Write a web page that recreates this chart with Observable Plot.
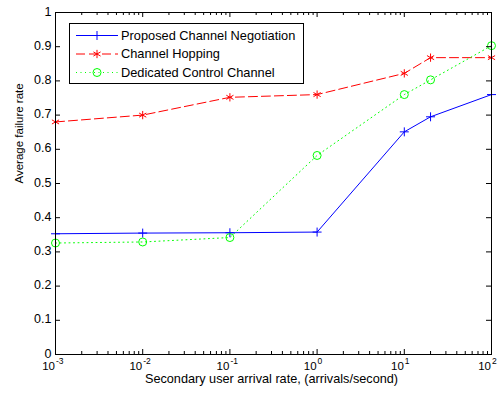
<!DOCTYPE html>
<html><head><meta charset="utf-8">
<script src="https://cdn.jsdelivr.net/npm/d3@7"></script>
<script src="https://cdn.jsdelivr.net/npm/@observablehq/plot@0.6"></script>
<style>body{margin:0;background:#fff}#chart{width:503px;height:399px}</style>
</head><body><div id="chart"></div>
<script>
// ---- data ----
const rates = [0.001, 0.01, 0.1, 1, 10, 20, 100];
const proposed = [0.353, 0.355, 0.356, 0.358, 0.651, 0.695, 0.76];
const hopping = [0.68, 0.70, 0.752, 0.76, 0.822, 0.868, 0.868];
const dedicated = [0.326, 0.329, 0.342, 0.582, 0.76, 0.803, 0.903];
const seriesNames = ["Proposed Channel Negotiation", "Channel Hopping", "Dedicated Control Channel"];
const xMajorTicks = [0.001, 0.01, 0.1, 1, 10, 100];
const xTickBase = ["10", "10", "10", "10", "10", "10"];
const xTickExp = ["-3", "-2", "-1", "0", "1", "2"];
const yTicks = [0, 0.1, 0.2, 0.3, 0.4, 0.5, 0.6, 0.7, 0.8, 0.9, 1];
const yTickLabels = ["0", "0.1", "0.2", "0.3", "0.4", "0.5", "0.6", "0.7", "0.8", "0.9", "1"];
const xLabel = "Secondary user arrival rate, (arrivals/second)";
const yLabel = "Average failure rate";

// ---- styles ----
const colors = ["#0000ff", "#ff0000", "#00ff00"];
const symbols = ["plus", "asterisk", "circle"];
const radii = [3.0, 3.9, 4];
const dashes = [null, "9,4", "1,3.5"];

const W = 503, H = 399;
const mL = 55, mR = 12, mT = 12, mB = 45;
const pw = W - mL - mR, ph = H - mT - mB;
const font = "'Liberation Sans', Arial, sans-serif";

const allSeries = [proposed, hopping, dedicated];
const tables = allSeries.map(vals => rates.map((r, i) => ({x: r, y: vals[i]})));
const minorTicks = xMajorTicks.slice(0, -1).flatMap(d => [2,3,4,5,6,7,8,9].map(k => d * k));

const marks = [];
tables.forEach((t, i) => {
  marks.push(Plot.line(t, {x: "x", y: "y", stroke: colors[i], strokeWidth: 1, strokeDasharray: dashes[i]}));
});
tables.forEach((t, i) => {
  marks.push(Plot.dot(t, {x: "x", y: "y", symbol: () => symbols[i], r: radii[i], stroke: colors[i], strokeWidth: 1, fill: "none"}));
});
marks.push(
  Plot.tickX(xMajorTicks, {x: d => d, insetTop: ph - 5, stroke: "black"}),
  Plot.tickX(xMajorTicks, {x: d => d, insetBottom: ph - 5, stroke: "black"}),
  Plot.tickX(minorTicks, {x: d => d, insetTop: ph - 3, stroke: "black"}),
  Plot.tickX(minorTicks, {x: d => d, insetBottom: ph - 3, stroke: "black"}),
  Plot.tickY(yTicks, {y: d => d, insetRight: pw - 5, stroke: "black"}),
  Plot.tickY(yTicks, {y: d => d, insetLeft: pw - 5, stroke: "black"}),
  Plot.frame({stroke: "black", strokeWidth: 1})
);
marks.push(
  Plot.text(yTicks, {y: d => d, text: (d, i) => yTickLabels[i], frameAnchor: "left", textAnchor: "end", dx: -4, dy: -1, fontSize: 12.5, fill: "black"}),
  Plot.text(xMajorTicks, {x: d => d, text: (d, i) => xTickBase[i], frameAnchor: "bottom", textAnchor: "end", dy: 15, dx: -0.5, fontSize: 11.5, fill: "black"}),
  Plot.text(xMajorTicks, {x: d => d, text: (d, i) => xTickExp[i], frameAnchor: "bottom", textAnchor: "start", dy: 9, dx: 0.5, fontSize: 8.5, fill: "black"}),
  Plot.text([xLabel], {text: d => d, frameAnchor: "bottom", dy: 28.5, dx: -2, fontSize: 12.7, fill: "black"}),
  Plot.text([yLabel], {text: d => d, frameAnchor: "left", dx: -36, rotate: -90, fontSize: 11.5, fill: "black"})
);

const chart = Plot.plot({
  width: W, height: H,
  marginLeft: mL, marginRight: mR, marginTop: mT, marginBottom: mB,
  x: {type: "log", domain: [0.001, 100], axis: null},
  y: {domain: [0, 1], axis: null},
  style: {fontFamily: font, background: "white", overflow: "visible"},
  marks
});

// legend drawn inside the SVG
const svg = d3.select(chart);
const lg = svg.append("g").attr("font-family", font).attr("font-size", 12.8).attr("text-anchor", "start");
lg.append("rect").attr("x", 69.5).attr("y", 23.5).attr("width", 234).attr("height", 60)
  .attr("fill", "white").attr("stroke", "black");
seriesNames.forEach((name, i) => {
  const yy = 35.5 + i * 18.5;
  lg.append("line").attr("x1", 76).attr("x2", 118).attr("y1", yy).attr("y2", yy)
    .attr("stroke", colors[i]).attr("stroke-dasharray", dashes[i]);
  const sym = {plus: d3.symbolPlus, asterisk: d3.symbolAsterisk, circle: d3.symbolCircle}[symbols[i]];
  lg.append("path").attr("d", d3.symbol(sym, Math.PI * radii[i] * radii[i])())
    .attr("transform", `translate(97,${yy})`).attr("fill", "none").attr("stroke", colors[i]);
  lg.append("text").attr("x", 121).attr("y", yy).attr("dy", "0.35em").attr("fill", "black").text(name);
});

document.getElementById("chart").appendChild(chart);
</script>
</body></html>
